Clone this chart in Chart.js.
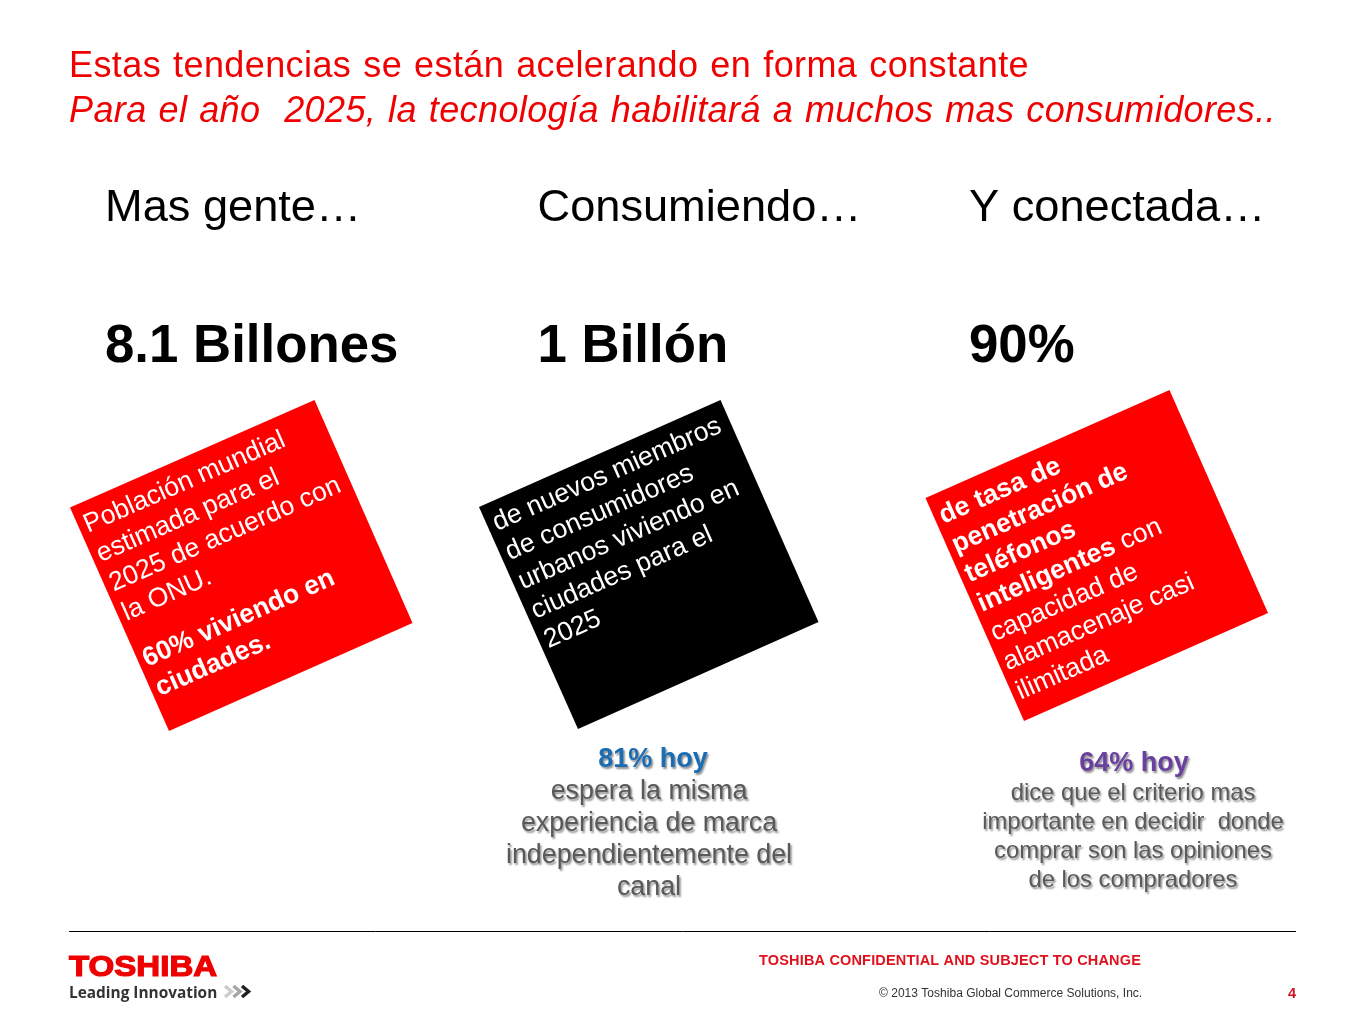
<!DOCTYPE html>
<html>
<head>
<meta charset="utf-8">
<title>Toshiba</title>
<script src="https://cdn.jsdelivr.net/npm/chart.js@4"></script>
<style>
html, body { margin: 0; padding: 0; background: #fff; }
#wrapper { position: relative; width: 1365px; height: 1024px; }
</style>
</head>
<body>
<div id="wrapper"><canvas id="slide" width="1365" height="1024"></canvas></div>
<script>
// Corners
const card1Corners = [[314.5, 400], [412.5, 623], [169, 731], [70, 507.5], [314.5, 400]];
const card2Corners = [[720.5, 400], [818.5, 622], [578, 729], [479, 507], [720.5, 400]];
const card3Corners = [[1169.5, 390], [1268, 613], [1024, 721], [925.5, 498], [1169.5, 390]];
const footerRule = [[69, 931.5], [1296, 931.5]];
const chevron1 = [[225, 986], [231.5, 991.5], [225, 997]];
const chevron2 = [[233.5, 986], [240, 991.5], [233.5, 997]];
const chevron3 = [[242, 986], [248.5, 991.5], [242, 997]];

// Texts
const titleLines = ['Estas tendencias se están acelerando en forma constante',
    'Para el año  2025, la tecnología habilitará a muchos mas consumidores..'];
const headings = ['Mas gente…', 'Consumiendo…', 'Y conectada…'];
const figures = ['8.1 Billones', '1 Billón', '90%'];
const card1Lines = [[['Población mundial', false]], [['estimada para el', false]],
    [['2025 de acuerdo con', false]], [['la ONU.', false]]];
const card1Bold = [[['60% viviendo en', true]], [['ciudades.', true]]];
const card2Lines = [[['de nuevos miembros', false]], [['de consumidores', false]],
    [['urbanos viviendo en', false]], [['ciudades para el', false]], [['2025', false]]];
const card3Lines = [[['de tasa de', true]], [['penetración de', true]], [['teléfonos', true]],
    [['inteligentes', true], [' con', false]], [['capacidad de', false]],
    [['alamacenaje casi', false]], [['ilimitada', false]]];
const note1Head = '81% hoy';
const note1Lines = ['espera la misma', 'experiencia de marca', 'independientemente del', 'canal'];
const note2Head = '64% hoy';
const note2Lines = ['dice que el criterio mas', 'importante en decidir  donde',
    'comprar son las opiniones', 'de los compradores'];

const FONT = '"Liberation Sans", Arial, sans-serif';
const RED = '#f00000';
const ANGLE = -23.7 * Math.PI / 180;

function toPoints(pairs) {
    return pairs.map(p => ({x: p[0], y: p[1]}));
}

function shape(pairs, color) {
    return {data: toPoints(pairs), showLine: true, fill: 'shape', backgroundColor: color,
        borderColor: color, borderWidth: 0, pointRadius: 0, tension: 0};
}

function stroke(pairs, color, width) {
    return {data: toPoints(pairs), showLine: true, fill: false, borderColor: color,
        borderWidth: width, pointRadius: 0, tension: 0};
}

function put(ctx, text, x, y, font, color, opts) {
    opts = opts || {};
    ctx.save();
    ctx.font = font;
    ctx.fillStyle = color;
    ctx.textAlign = opts.align || 'left';
    ctx.textBaseline = 'alphabetic';
    ctx.letterSpacing = (opts.spacing || 0) + 'px';
    if (opts.fit) {
        let spaces = text.split(' ').length - 1;
        ctx.wordSpacing = ((opts.fit - ctx.measureText(text).width) / spaces) + 'px';
    }
    if (opts.shadow) {
        ctx.shadowColor = 'rgba(0,0,0,0.45)';
        ctx.shadowOffsetX = 1.5;
        ctx.shadowOffsetY = 1.5;
        ctx.shadowBlur = 2;
    }
    ctx.fillText(text, x, y);
    ctx.restore();
}

// Rotated card text, line by line from the first baseline start
function cardText(ctx, lines, x, y, size, leading) {
    ctx.save();
    ctx.translate(x, y);
    ctx.rotate(ANGLE);
    lines.forEach((runs, i) => {
        let cx = 0;
        runs.forEach(run => {
            let font = (run[1] ? 'bold ' : '') + size + 'px ' + FONT;
            put(ctx, run[0], cx, i * leading, font, '#fff');
            ctx.font = font;
            cx += ctx.measureText(run[0]).width;
        });
    });
    ctx.restore();
}

function centred(ctx, lines, x, y, size, leading) {
    lines.forEach((line, i) => {
        put(ctx, line, x, y + i * leading, size + 'px ' + FONT, '#595959', {align: 'center', shadow: true});
    });
}

const slideText = {
    id: 'slideText',
    afterDatasetsDraw(chart) {
        const ctx = chart.ctx;
        put(ctx, titleLines[0], 69, 77, '36px ' + FONT, RED, {fit: 960, spacing: 0.4});
        put(ctx, titleLines[1], 69, 122, 'italic 36px ' + FONT, RED, {fit: 1207, spacing: 0.4});

        const columns = [105, 537.5, 969];
        columns.forEach((x, i) => {
            put(ctx, headings[i], x, 220.5, '45.2px ' + FONT, '#000');
            put(ctx, figures[i], x, 362, 'bold 52.8px ' + FONT, '#000');
        });

        cardText(ctx, card1Lines, 88, 533, 26.6, 32);
        cardText(ctx, card1Bold, 147, 667, 26.6, 32);
        cardText(ctx, card2Lines, 497, 531, 26.6, 32);
        cardText(ctx, card3Lines, 943.5, 524, 26.6, 32);

        put(ctx, note1Head, 653, 767, 'bold 27px ' + FONT, '#1a6cb5', {align: 'center', shadow: true});
        centred(ctx, note1Lines, 649, 799, 26.8, 32);
        put(ctx, note2Head, 1134, 771, 'bold 27px ' + FONT, '#6a3fa0', {align: 'center', shadow: true});
        centred(ctx, note2Lines, 1133, 800, 23.8, 29);

        // Logo
        ctx.save();
        ctx.translate(69, 976);
        ctx.scale(1.14, 1);
        ctx.lineWidth = 1.2;
        ctx.strokeStyle = '#ee0000';
        ctx.font = 'bold 29px ' + FONT;
        ctx.strokeText('TOSHIBA', 0, 0);
        put(ctx, 'TOSHIBA', 0, 0, 'bold 29px ' + FONT, '#ee0000');
        ctx.restore();
        put(ctx, 'Leading Innovation', 69, 998, 'bold 15.4px "Open Sans", sans-serif', '#333');

        put(ctx, 'TOSHIBA CONFIDENTIAL AND SUBJECT TO CHANGE', 759, 965, 'bold 14.5px ' + FONT, '#e0101c', {spacing: 0.17});
        put(ctx, '© 2013 Toshiba Global Commerce Solutions, Inc.', 879, 997, '12px ' + FONT, '#333', {spacing: 0.02});
        put(ctx, '4', 1296, 998, 'bold 14.5px ' + FONT, '#d01020', {align: 'right'});
    }
};

let chart = new Chart(document.getElementById('slide').getContext('2d'), {
    type: 'scatter',
    data: {
        datasets: [
            shape(card1Corners, '#ff0000'),
            shape(card2Corners, '#000000'),
            shape(card3Corners, '#ff0000'),
            stroke(footerRule, '#000000', 1),
            stroke(chevron1, '#cccccc', 3.5),
            stroke(chevron2, '#a6a6a6', 3.5),
            stroke(chevron3, '#222222', 3.5)
        ]
    },
    options: {
        responsive: false,
        animation: false,
        devicePixelRatio: 1,
        layout: {padding: 0},
        plugins: {legend: {display: false}, tooltip: {enabled: false}},
        scales: {
            x: {type: 'linear', min: 0, max: 1365, display: false},
            y: {type: 'linear', min: 0, max: 1024, reverse: true, display: false}
        }
    },
    plugins: [slideText]
});
</script>
</body>
</html>
